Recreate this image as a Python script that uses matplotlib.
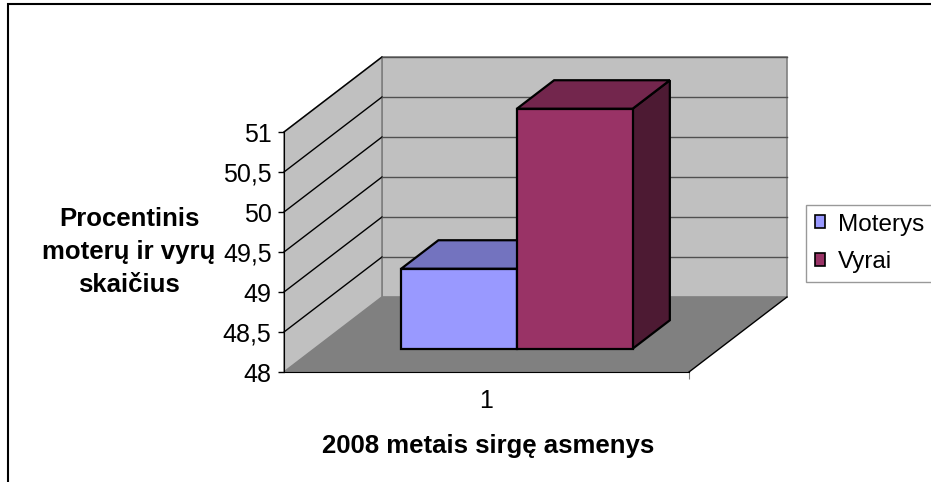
import matplotlib.pyplot as plt
from matplotlib.patches import Polygon, Patch, Rectangle

plt.rcParams["font.family"] = ["Liberation Sans", "DejaVu Sans"]

# data
categories = ["1"]
series = ["Moterys", "Vyrai"]
values = [49.0, 51.0]
y_ticks = [48, 48.5, 49, 49.5, 50, 50.5, 51]
y_tick_labels = ["48", "48,5", "49", "49,5", "50", "50,5", "51"]
y_min, y_max = 48, 51

front_colors = ["#9999FF", "#993366"]
top_colors = ["#7373BF", "#73264D"]
side_colors = ["#7373BF", "#4D1A33"]

W, H = 931, 482
fig = plt.figure(figsize=(W / 100, H / 100), dpi=100)

# front plane of the 3d box, in pixels
x0_px, x1_px, ybot_px, ytop_px = 284, 689, 372, 132
ax = fig.add_axes([x0_px / W, 1 - ybot_px / H, (x1_px - x0_px) / W, (ybot_px - ytop_px) / H])
ax.set_xlim(0, 1)
ax.set_ylim(y_min, y_max)
ax.patch.set_visible(False)

# oblique depth offset (full depth) in data units
DX = 98 / (x1_px - x0_px)
DY = 75 / ((ybot_px - ytop_px) / (y_max - y_min))


def proj(x, v, d):
    return (x + d * DX, v + d * DY)


def face(pts, fc, ec, lw, z):
    ax.add_patch(Polygon([proj(*p) for p in pts], closed=True, facecolor=fc,
                         edgecolor=ec, linewidth=lw, zorder=z, clip_on=False,
                         joinstyle="miter"))


# walls and floor
face([(0, y_min, 1), (1, y_min, 1), (1, y_max, 1), (0, y_max, 1)], "#C0C0C0", "#808080", 1.2, 1)
face([(0, y_min, 0), (0, y_min, 1), (0, y_max, 1), (0, y_max, 0)], "#C0C0C0", "#808080", 1.2, 1)
face([(0, y_min, 0), (1, y_min, 0), (1, y_min, 1), (0, y_min, 1)], "#808080", "none", 0, 1)

for v in y_ticks[1:]:
    xs, ys = zip(proj(0, v, 0), proj(0, v, 1))
    ax.plot(xs, ys, color="black", lw=1, zorder=2, clip_on=False)
    xs, ys = zip(proj(0, v, 1), proj(1, v, 1))
    ax.plot(xs, ys, color="#505050", lw=1, zorder=2, clip_on=False)
xs, ys = zip(proj(1, y_min, 0), proj(1, y_min, 1))
ax.plot(xs, ys, color="black", lw=1, zorder=2, clip_on=False)

# bars (150% gap width, centred in depth)
n = len(series)
bw = 1 / (n + 1.5)
d0, d1 = 0.31, 0.69
for i, (name, val) in enumerate(zip(series, values)):
    a = 0.5 - n * bw / 2 + i * bw
    b = a + bw
    face([(b, y_min, d0), (b, y_min, d1), (b, val, d1), (b, val, d0)], side_colors[i], "black", 1.6, 3 + i)
    face([(a, val, d0), (b, val, d0), (b, val, d1), (a, val, d1)], top_colors[i], "black", 1.6, 3 + i)
    face([(a, y_min, d0), (b, y_min, d0), (b, val, d0), (a, val, d0)], front_colors[i], "black", 1.6, 3 + i)

# axes
for s in ["top", "right"]:
    ax.spines[s].set_visible(False)
ax.spines["left"].set_zorder(6)
ax.spines["bottom"].set_zorder(6)
ax.set_yticks(y_ticks, y_tick_labels)
ax.tick_params(axis="y", length=4, width=1, pad=5, labelsize=18)
ax.set_xticks([1], [""])
ax.tick_params(axis="x", which="major", length=5, color="#808080")
ax.set_xticks([0.5], categories, minor=True)
ax.tick_params(axis="x", which="minor", length=0, pad=12.5, labelsize=18)

fig.text(129 / W, 1 - 252 / H, "Procentinis\nmoterų ir vyrų\nskaičius", ha="center",
         va="center", fontsize=18.5, fontweight="bold", linespacing=1.45)
fig.text(488 / W, 1 - 446 / H, "2008 metais sirgę asmenys", ha="center", va="center",
         fontsize=18.5, fontweight="bold")

handles = [Patch(facecolor=c, edgecolor="black", linewidth=1.2) for c in front_colors]
leg = fig.legend(handles, series, loc="upper left", bbox_to_anchor=(806 / W, 1 - 205 / H),
                 frameon=True, fancybox=False, fontsize=17.5, handlelength=0.45,
                 handleheight=0.45, handletextpad=0.5, labelspacing=0.65,
                 borderaxespad=0, borderpad=0.35)
leg.get_frame().set_edgecolor("#808080")
leg.get_frame().set_linewidth(1)

# chart area border
fig.patches.append(Rectangle((8 / W, -0.1), 1.2, 1.1 - 4 / H, transform=fig.transFigure,
                             fill=False, edgecolor="black", linewidth=1.5))

fig.savefig("out.png", dpi=100)
